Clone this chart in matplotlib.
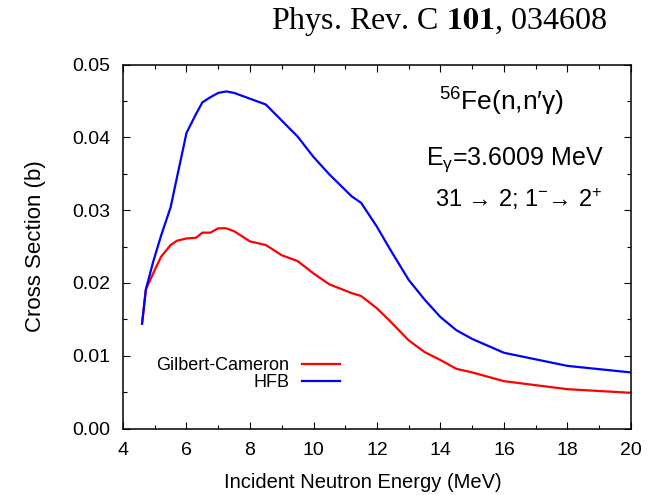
import numpy as np
import matplotlib
matplotlib.use("Agg")
import matplotlib.pyplot as plt
from matplotlib.ticker import MultipleLocator, FormatStrFormatter

plt.rcParams['font.family'] = ['Liberation Sans', 'DejaVu Sans']
plt.rcParams['mathtext.fontset'] = 'custom'
plt.rcParams['mathtext.rm'] = 'Liberation Sans'
plt.rcParams['mathtext.it'] = 'Liberation Sans:italic'
plt.rcParams['mathtext.bf'] = 'Liberation Sans:bold'

# incident neutron energy (MeV)
energy = [4.6, 4.72, 4.95, 5.2, 5.5, 5.7, 6.0, 6.3, 6.5, 6.75, 7.0, 7.25, 7.5,
          8.0, 8.5, 9.0, 9.5, 10.0, 10.5, 11.2, 11.5, 12.0, 12.4, 13.0, 13.5,
          14.0, 14.5, 15.0, 16.0, 18.0, 20.0]

# cross sections (b)
xs_gc = [0.0144, 0.0191, 0.0213, 0.0236, 0.0252, 0.0258, 0.0261, 0.0262, 0.0269,
         0.0269, 0.0275, 0.0275, 0.0271, 0.0257, 0.0252, 0.0238, 0.0230, 0.0213,
         0.0198, 0.0186, 0.0182, 0.0165, 0.0148, 0.0121, 0.0105, 0.0094, 0.0082,
         0.0077, 0.0065, 0.0054, 0.0049]
xs_hfb = [0.0144, 0.0191, 0.0229, 0.0265, 0.0304, 0.0345, 0.0406, 0.0432, 0.0448,
          0.0455, 0.0461, 0.0463, 0.0461, 0.0453, 0.0445, 0.0423, 0.0401, 0.0373,
          0.0349, 0.0319, 0.0310, 0.0277, 0.0247, 0.0204, 0.0177, 0.0153, 0.0135,
          0.0123, 0.0104, 0.0086, 0.0077]

labels = ['Gilbert-Cameron', 'HFB']

W, H = 657, 495
fig = plt.figure(figsize=(W / 100, H / 100), dpi=100)
ax = fig.add_axes([123 / W, 1 - 428.5 / H, 508 / W, 364 / H])

ax.plot(energy, xs_gc, color='#ff0000', lw=1.6, label=labels[0])
ax.plot(energy, xs_hfb, color='#0000ff', lw=1.6, label=labels[1])

ax.set_xlim(4, 20)
ax.set_ylim(0, 0.05)
ax.xaxis.set_major_locator(MultipleLocator(2))
ax.xaxis.set_minor_locator(MultipleLocator(1))
ax.yaxis.set_major_locator(MultipleLocator(0.01))
ax.yaxis.set_minor_locator(MultipleLocator(0.005))
ax.yaxis.set_major_formatter(FormatStrFormatter('%.2f'))

ax.tick_params(which='both', direction='in', top=True, right=True, width=0.8)
ax.tick_params(which='major', length=5, labelsize=14)
ax.tick_params(which='minor', length=3)
ax.tick_params(axis='x', pad=10)
ax.tick_params(axis='y', pad=9)
for s in ax.spines.values():
    s.set_linewidth(1.1)

ax.set_xlabel('Incident Neutron Energy (MeV)', fontsize=14.5)
ax.set_ylabel('Cross Section (b)', fontsize=16)
ax.xaxis.set_label_coords(0.473, -0.121)
ax.yaxis.set_label_coords(-0.152, 0.5)

ax.legend(loc='center right', bbox_to_anchor=(340 / W, 1 - 374 / H),
          bbox_transform=fig.transFigure, frameon=False, markerfirst=False,
          fontsize=13, handlelength=2.1, handletextpad=0.7, labelspacing=0.0,
          borderpad=0, borderaxespad=0)

fig.text(502 / W, 1 - 102 / H, "$^{56}$Fe(n,n\u2032\u03b3)", ha='center', va='center',
         fontsize=19)
fig.text(515 / W, 1 - 160 / H, "E$_{\\mathrm{\u03b3}}$=3.6009 MeV", ha='center',
         va='center', fontsize=18)
fig.text(519 / W, 1 - 199 / H, "31 \u2192 2; 1$^{-}$\u2192 2$^{+}$", ha='center',
         va='center', fontsize=17)

fig.text(607 / W, 1 - 22 / H, r"Phys. Rev. C $\mathbf{101}$, 034608", ha='right',
         va='center', fontsize=23, family='Liberation Serif', math_fontfamily='stix')

fig.savefig('out.png', dpi=100)
